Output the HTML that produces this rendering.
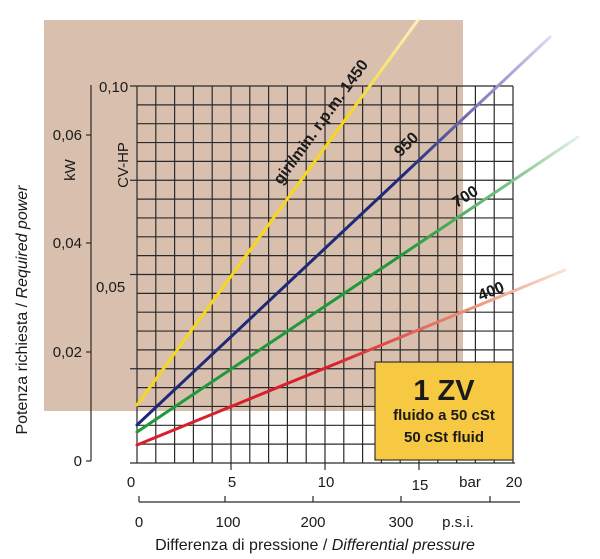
<!DOCTYPE html>
<html><head><meta charset="utf-8"><style>
html,body{margin:0;padding:0;background:#fff;}
svg{display:block;font-family:"Liberation Sans",sans-serif;}
</style></head><body>
<svg width="600" height="559" viewBox="0 0 600 559" xmlns="http://www.w3.org/2000/svg">
<defs>
<linearGradient id="gy" gradientUnits="userSpaceOnUse" x1="137" y1="405" x2="418" y2="20"><stop offset="0.75" stop-color="#f5d81e"/><stop offset="1" stop-color="#fbf0c0"/></linearGradient>
<linearGradient id="gb" gradientUnits="userSpaceOnUse" x1="137" y1="425" x2="550" y2="37"><stop offset="0.65" stop-color="#1e2a78"/><stop offset="0.85" stop-color="#8a88c8"/><stop offset="1" stop-color="#dcdcf0"/></linearGradient>
<linearGradient id="gg" gradientUnits="userSpaceOnUse" x1="137" y1="432" x2="578" y2="137"><stop offset="0.6" stop-color="#1f9a3a"/><stop offset="0.85" stop-color="#7cc48a"/><stop offset="1" stop-color="#e4f2e6"/></linearGradient>
<linearGradient id="gr" gradientUnits="userSpaceOnUse" x1="137" y1="445" x2="565" y2="270"><stop offset="0.45" stop-color="#d8202a"/><stop offset="0.8" stop-color="#eb9a80"/><stop offset="1" stop-color="#fbe2d6"/></linearGradient>
</defs>
<rect x="44" y="20" width="419" height="391" fill="#d9bfae"/>
<g stroke="#2a2a2a" stroke-width="1.2">
<line x1="137" y1="86" x2="137" y2="463"/>
<line x1="155.8" y1="86" x2="155.8" y2="463"/><line x1="174.6" y1="86" x2="174.6" y2="463"/><line x1="193.4" y1="86" x2="193.4" y2="463"/><line x1="212.2" y1="86" x2="212.2" y2="463"/><line x1="231" y1="86" x2="231" y2="463"/><line x1="249.8" y1="86" x2="249.8" y2="463"/><line x1="268.6" y1="86" x2="268.6" y2="463"/><line x1="287.4" y1="86" x2="287.4" y2="463"/><line x1="306.2" y1="86" x2="306.2" y2="463"/><line x1="325" y1="86" x2="325" y2="463"/><line x1="343.8" y1="86" x2="343.8" y2="463"/><line x1="362.6" y1="86" x2="362.6" y2="463"/><line x1="381.4" y1="86" x2="381.4" y2="463"/><line x1="400.2" y1="86" x2="400.2" y2="463"/><line x1="419" y1="86" x2="419" y2="463"/><line x1="437.8" y1="86" x2="437.8" y2="463"/><line x1="456.6" y1="86" x2="456.6" y2="463"/><line x1="475.4" y1="86" x2="475.4" y2="463"/><line x1="494.2" y1="86" x2="494.2" y2="463"/><line x1="513" y1="86" x2="513" y2="463"/>
<line x1="130" y1="86" x2="513" y2="86"/>
<line x1="137" y1="104.85" x2="513" y2="104.85"/><line x1="137" y1="123.7" x2="513" y2="123.7"/><line x1="137" y1="142.55" x2="513" y2="142.55"/><line x1="137" y1="161.4" x2="513" y2="161.4"/><line x1="137" y1="180.25" x2="513" y2="180.25"/><line x1="137" y1="199.1" x2="513" y2="199.1"/><line x1="137" y1="217.95" x2="513" y2="217.95"/><line x1="137" y1="236.8" x2="513" y2="236.8"/><line x1="137" y1="255.65" x2="513" y2="255.65"/><line x1="137" y1="274.5" x2="513" y2="274.5"/><line x1="137" y1="293.35" x2="513" y2="293.35"/><line x1="137" y1="312.2" x2="513" y2="312.2"/><line x1="137" y1="331.05" x2="513" y2="331.05"/><line x1="137" y1="349.9" x2="513" y2="349.9"/><line x1="137" y1="368.75" x2="513" y2="368.75"/><line x1="137" y1="387.6" x2="513" y2="387.6"/><line x1="137" y1="406.45" x2="513" y2="406.45"/><line x1="137" y1="425.3" x2="513" y2="425.3"/><line x1="137" y1="444.15" x2="513" y2="444.15"/>
<line x1="130" y1="463" x2="515" y2="463"/>
<line x1="130" y1="180.25" x2="137" y2="180.25"/><line x1="130" y1="274.5" x2="137" y2="274.5"/><line x1="130" y1="368.75" x2="137" y2="368.75"/>
<line x1="231" y1="463" x2="231" y2="470"/><line x1="325" y1="463" x2="325" y2="470"/><line x1="419" y1="463" x2="419" y2="470"/>
<line x1="91" y1="85" x2="91" y2="461"/>
<line x1="86" y1="135" x2="91" y2="135"/><line x1="86" y1="243" x2="91" y2="243"/><line x1="86" y1="352" x2="91" y2="352"/><line x1="86" y1="461" x2="91" y2="461"/>
<line x1="139" y1="502" x2="520" y2="502"/>
<line x1="139" y1="496" x2="139" y2="502"/><line x1="225" y1="496" x2="225" y2="502"/><line x1="313" y1="496" x2="313" y2="502"/><line x1="401" y1="496" x2="401" y2="502"/><line x1="490" y1="496" x2="490" y2="502"/>
</g>
<g stroke-width="3" stroke-linecap="round">
<line x1="137" y1="405" x2="418" y2="20" stroke="url(#gy)"/>
<line x1="137" y1="425" x2="550" y2="37" stroke="url(#gb)"/>
<line x1="137" y1="432" x2="578" y2="137" stroke="url(#gg)"/>
<line x1="137" y1="445" x2="565" y2="270" stroke="url(#gr)"/>
</g>
<rect x="375" y="362" width="138" height="98" fill="#f7c842" stroke="#333" stroke-width="1.2"/>
<g fill="#1a1a1a" font-weight="bold" text-anchor="middle">
<text x="444" y="400" font-size="29">1 ZV</text>
<text x="444" y="420" font-size="15">fluido a 50 cSt</text>
<text x="444" y="442" font-size="15">50 cSt fluid</text>
<text x="325" y="125" font-size="16" transform="rotate(-54 325 125)">giri/min. r.p.m. 1450</text>
<text x="410" y="148" font-size="16" transform="rotate(-45 410 148)">950</text>
<text x="468" y="201" font-size="16" transform="rotate(-32 468 201)">700</text>
<text x="493" y="296" font-size="16" transform="rotate(-22 493 296)">400</text>
</g>
<g fill="#1a1a1a" font-size="15">
<text x="82" y="140" text-anchor="end">0,06</text>
<text x="82" y="248" text-anchor="end">0,04</text>
<text x="82" y="357" text-anchor="end">0,02</text>
<text x="82" y="466" text-anchor="end">0</text>
<text x="99" y="92">0,10</text>
<text x="96" y="292">0,05</text>
<text x="75" y="170" transform="rotate(-90 75 170)" text-anchor="middle">kW</text>
<text x="128" y="165" transform="rotate(-90 128 165)" text-anchor="middle">CV-HP</text>
<text x="27" y="310" transform="rotate(-90 27 310)" text-anchor="middle" font-size="16">Potenza richiesta / <tspan font-style="italic">Required power</tspan></text>
<text x="131" y="487" text-anchor="middle">0</text>
<text x="232" y="487" text-anchor="middle">5</text>
<text x="326" y="487" text-anchor="middle">10</text>
<text x="420" y="490" text-anchor="middle">15</text>
<text x="470" y="487" text-anchor="middle">bar</text>
<text x="514" y="487" text-anchor="middle">20</text>
<text x="139" y="527" text-anchor="middle">0</text>
<text x="228" y="527" text-anchor="middle">100</text>
<text x="313" y="527" text-anchor="middle">200</text>
<text x="401" y="527" text-anchor="middle">300</text>
<text x="458" y="527" text-anchor="middle">p.s.i.</text>
<text x="315" y="550" text-anchor="middle" font-size="16">Differenza di pressione / <tspan font-style="italic">Differential pressure</tspan></text>
</g>
</svg>
</body></html>
